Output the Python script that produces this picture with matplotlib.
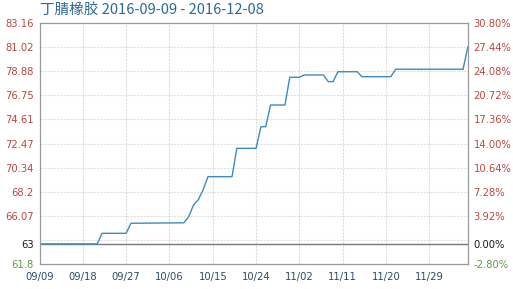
import numpy as np
import pandas as pd
import matplotlib
matplotlib.use("Agg")
import matplotlib.pyplot as plt

# price path of the series: vertices (date, price); straight segments in between
dates = ["2016-09-09", "2016-09-21", "2016-09-22", "2016-09-27", "2016-09-28",
         "2016-10-09", "2016-10-10", "2016-10-11", "2016-10-12", "2016-10-13",
         "2016-10-14", "2016-10-19", "2016-10-20", "2016-10-24", "2016-10-25",
         "2016-10-26", "2016-10-27", "2016-10-30", "2016-10-31", "2016-11-02",
         "2016-11-03", "2016-11-07", "2016-11-08", "2016-11-09", "2016-11-10",
         "2016-11-14", "2016-11-15", "2016-11-21", "2016-11-22", "2016-12-06",
         "2016-12-07"]
prices = [63.58, 63.58, 64.52, 64.52, 65.41,
          65.45, 65.99, 67.03, 67.50, 68.38,
          69.54, 69.54, 72.05, 72.05, 73.97,
          73.97, 75.89, 75.89, 78.35, 78.35,
          78.55, 78.55, 77.96, 77.96, 78.84,
          78.84, 78.40, 78.40, 79.06, 79.06,
          81.04]

base_price = 63.58
title = "丁腈橡胶 2016-09-09 - 2016-12-08"
start_date = "2016-09-09"
xtick_labels = ["09/09", "09/18", "09/27", "10/06", "10/15", "10/24",
                "11/02", "11/11", "11/20", "11/29"]
price_ticks = [61.8, 63.94, 66.07, 68.2, 70.34, 72.47, 74.61, 76.75, 78.88, 81.02, 83.16]
pct_labels = ["-2.80%", "", "3.92%", "7.28%", "10.64%", "14.00%", "17.36%",
              "20.72%", "24.08%", "27.44%", "30.80%"]

red = "#b8483f"
green = "#5c9e3c"
line_color = "#3a8cc0"

t0 = pd.Timestamp(start_date)
x = np.array([(pd.Timestamp(d) - t0).days for d in dates])
y = np.array(prices)
tick_x = np.arange(len(xtick_labels)) * 9

fig = plt.figure(figsize=(5.13, 2.89), dpi=100)
ax = fig.add_axes([0.077, 0.0865, 0.835, 0.834])

for v in price_ticks[1:-1]:
    ax.axhline(v, color="#e0e0e0", lw=0.8, ls=(0, (2, 1)), zorder=0)
for tx in tick_x[1:]:
    ax.axvline(tx, color="#dcdcdc", lw=0.8, ls=(0, (2, 1)), zorder=0)
ax.axhline(base_price, color="#7a7a7a", lw=1.0, zorder=1)

ax.plot(x, y, color=line_color, lw=1.0, zorder=2)

ax.set_xlim(0, x[-1])
ax.set_ylim(price_ticks[0], price_ticks[-1])

left_ticks = [price_ticks[0], base_price] + price_ticks[2:]
left_labels = ["61.8", "63"] + [("%.2f" % v).rstrip("0") for v in price_ticks[2:]]
ax.set_yticks(left_ticks)
ax.set_yticklabels(left_labels)
for i, lab in enumerate(ax.get_yticklabels()):
    lab.set_color(green if i == 0 else ("#1a1a1a" if i == 1 else red))

ax.set_xticks(tick_x)
ax.set_xticklabels(xtick_labels, color="#2b4a6b")
ax.tick_params(axis="both", length=0, labelsize=7.2)
ax.tick_params(axis="x", pad=6)
ax.tick_params(axis="y", pad=4)

for s in ax.spines.values():
    s.set_color("#9a9a9a")
    s.set_linewidth(0.9)

ax2 = ax.twinx()
pct_lo = (price_ticks[0] / base_price - 1) * 100
pct_hi = (price_ticks[-1] / base_price - 1) * 100
ax2.set_ylim(pct_lo, pct_hi)
right_ticks = [(v / base_price - 1) * 100 for v in price_ticks]
right_ticks[1] = 0.0
right_labels = list(pct_labels)
right_labels[1] = "0.00%"
ax2.set_yticks(right_ticks)
ax2.set_yticklabels(right_labels)
for i, lab in enumerate(ax2.get_yticklabels()):
    lab.set_color(green if i == 0 else ("#1a1a1a" if i == 1 else red))
ax2.tick_params(axis="y", length=0, labelsize=7.2, pad=4)
for s in ax2.spines.values():
    s.set_visible(False)

fig.text(0.078, 0.99, title, ha="left", va="top", fontsize=10.5,
         color="#2a6a96", family=["Noto Sans CJK SC", "DejaVu Sans"])

fig.savefig("out.png", dpi=100)
